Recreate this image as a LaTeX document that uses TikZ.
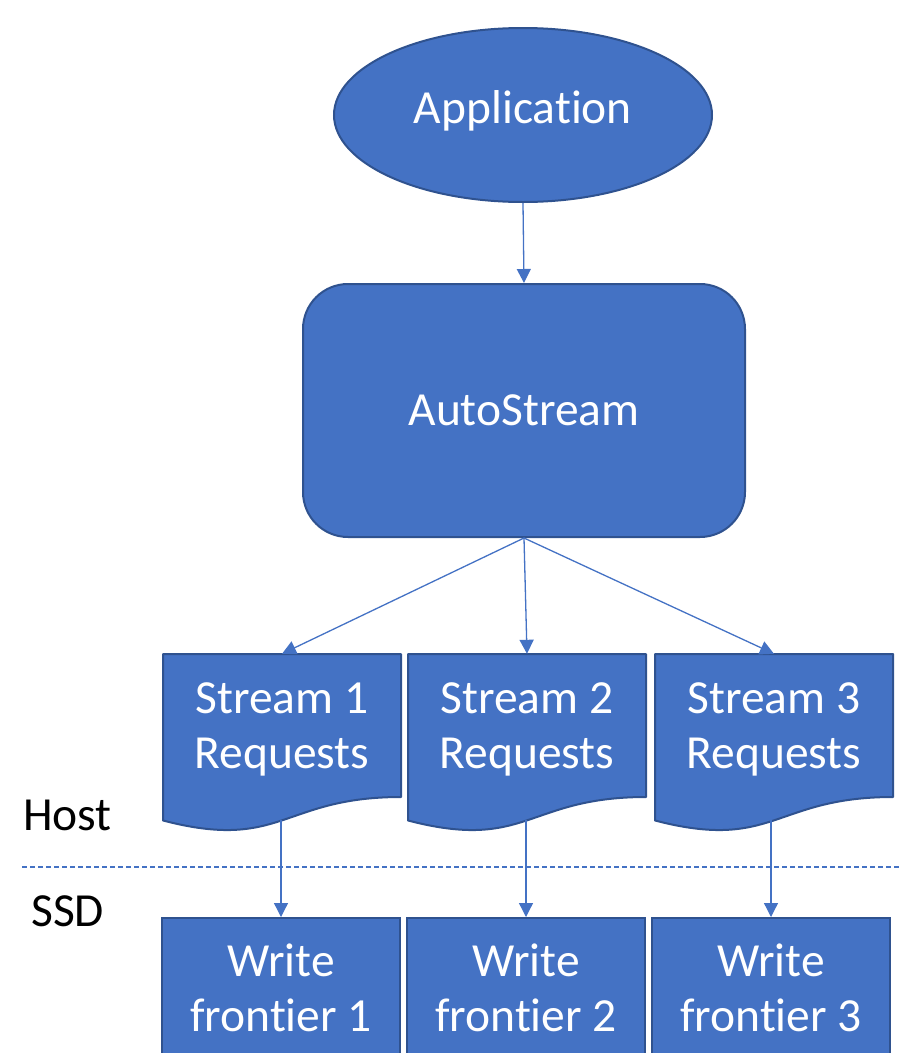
\documentclass[tikz,border=0pt]{standalone}
\usepackage{fontspec}
\setmainfont[RawFeature=-liga]{Carlito}
\usetikzlibrary{shapes.geometric,arrows.meta,calc}
\definecolor{ofill}{HTML}{4472C4}
\definecolor{oline}{HTML}{2F528F}
\begin{document}
\begin{tikzpicture}[x=1bp,y=-1bp,
  bigfont/.style={font=\fontsize{47.5bp}{55bp}\selectfont},
  shapebox/.style={draw=oline,fill=ofill,line width=2bp,text=white,bigfont,align=center,inner sep=0pt,text depth=0pt},
  docnode/.style={bigfont,text=white,align=center,inner sep=0pt,text depth=0pt,minimum width=238bp,minimum height=143bp},
  docshape/.style={draw=oline,fill=ofill,line width=2bp,line join=round},
  conn/.style={draw=ofill,line width=1.3bp,-{Triangle[width=14bp,length=14bp]}},
  side/.style={bigfont,text=black,inner sep=0pt,anchor=base west}]
\useasboundingbox (0,0) rectangle (902,1053);

% Application ellipse
\node[shapebox,ellipse,minimum width=378bp,minimum height=174bp,text depth=16bp] (app) at (523,115) {Application};

% AutoStream rounded rectangle
\node[shapebox,rounded corners=45bp,minimum width=442bp,minimum height=253bp] (auto) at (524,410.5) {AutoStream};

% Stream document shapes
\foreach \n/\cx in {1/282,2/527,3/774}{
  \coordinate (d\n) at (\cx,725.5);
  \path[docshape] ($(d\n)+(-119,-71.5)$) -- ($(d\n)+(119,-71.5)$) -- ($(d\n)+(119,71.5)$)
     .. controls ($(d\n)+(0,71.5)$) and ($(d\n)+(0,126)$) .. ($(d\n)+(-119,95)$) -- cycle;
}
\node[docnode] (s1) at (d1) {Stream 1\\Requests};
\node[docnode] (s2) at (d2) {Stream 2\\Requests};
\node[docnode] (s3) at (d3) {Stream 3\\Requests};

% Write frontier boxes
\node[shapebox,minimum width=238bp,minimum height=140bp] (w1) at (281,988) {Write\\frontier 1};
\node[shapebox,minimum width=238bp,minimum height=140bp] (w2) at (526,988) {Write\\frontier 2};
\node[shapebox,minimum width=238bp,minimum height=140bp] (w3) at (771,988) {Write\\frontier 3};

% Host / SSD separator
\coordinate (dl) at (22,867);
\coordinate (dr) at (902,867);
\draw[ofill,line width=1.2bp,dash pattern=on 5bp off 3bp] (dl) -- (dr);
\node[side] (host) at (23,830) {Host};
\node[side] (ssd) at (31,926) {SSD};

% connectors
\draw[conn] (app.south) -- (auto.north);
\draw[conn] (auto.south) -- (s1.north);
\draw[conn] (auto.south) -- (s2.north);
\draw[conn] (auto.south) -- (s3.north);
\foreach \n in {1,2,3}{
  \coordinate (b\n) at ($(w\n.north)+(0,-97)$);
  \draw[conn] (b\n) -- (w\n.north);
}
\end{tikzpicture}
\end{document}
